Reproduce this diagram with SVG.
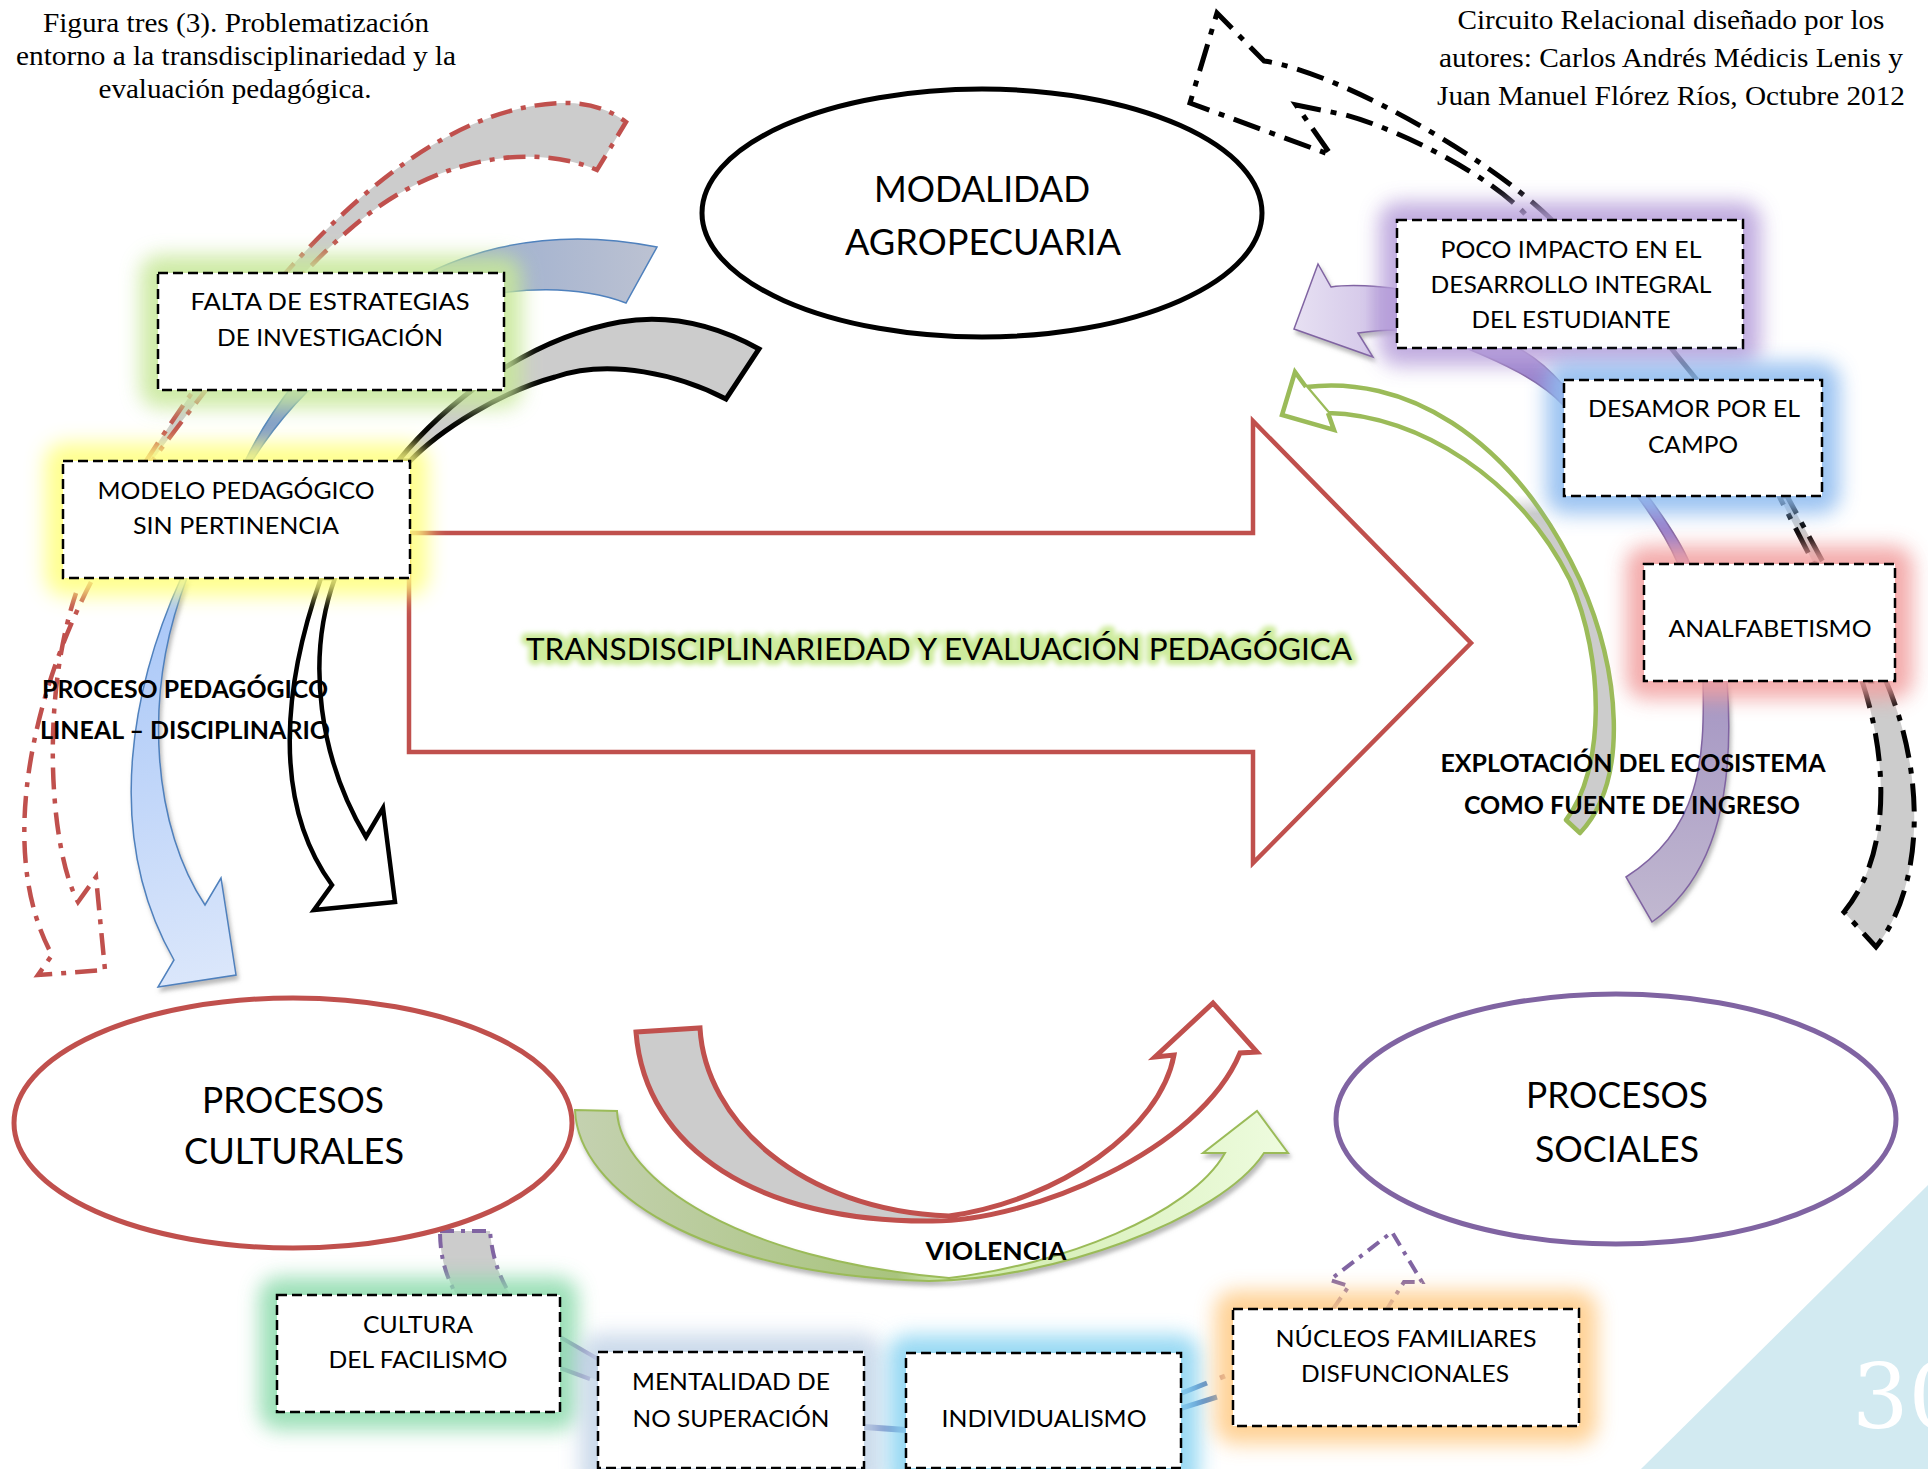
<svg xmlns="http://www.w3.org/2000/svg" width="1928" height="1469" viewBox="0 0 1928 1469">
<defs>
<style>
.box{fill:#fff;stroke:#000;stroke-width:2.5;stroke-dasharray:10 5}
.glow{filter:url(#blur);opacity:.88}
.bt{font-family:Lato,'Open Sans','DejaVu Sans',sans-serif;font-size:24px;text-anchor:middle;fill:#000}
.et{font-family:Lato,'Open Sans','DejaVu Sans',sans-serif;font-size:36px;text-anchor:middle;fill:#000}
.lbl{font-family:Lato,'Open Sans','DejaVu Sans',sans-serif;font-size:25px;font-weight:bold;fill:#000}
.ttl{font-family:'Liberation Serif','Times New Roman',serif;font-size:28px;text-anchor:middle;fill:#000}
.rdd{stroke:#C0504D;stroke-width:4.5;stroke-dasharray:22 9 5 9}
.kdd{stroke:#000;stroke-width:5;stroke-dasharray:28 10 6 10}
.pdd{stroke:#8064A2;stroke-width:4;stroke-dasharray:14 7 4 7}
</style>
<filter id="blur" x="-50%" y="-50%" width="200%" height="200%"><feGaussianBlur stdDeviation="10"/></filter>
<filter id="tblur" x="-10%" y="-50%" width="120%" height="200%"><feGaussianBlur stdDeviation="2.5"/></filter>
<filter id="shadow" x="-20%" y="-20%" width="140%" height="140%"><feDropShadow dx="2" dy="4" stdDeviation="2" flood-color="#808080" flood-opacity="0.55"/></filter>
<linearGradient id="blueBand" gradientUnits="userSpaceOnUse" x1="245" y1="0" x2="657" y2="0"><stop offset="0" stop-color="#7f9cc9"/><stop offset="0.6" stop-color="#a1b1cf"/><stop offset="1" stop-color="#bcc2d2"/></linearGradient>
<linearGradient id="blueDown" gradientUnits="userSpaceOnUse" x1="140" y1="580" x2="236" y2="990"><stop offset="0" stop-color="#a6c5f7"/><stop offset="1" stop-color="#dde8fb"/></linearGradient>
<linearGradient id="greenU" gradientUnits="userSpaceOnUse" x1="575" y1="0" x2="1290" y2="0"><stop offset="0" stop-color="#c4d1b0"/><stop offset="0.45" stop-color="#a9c47e"/><stop offset="0.52" stop-color="#cfeaab"/><stop offset="1" stop-color="#eefcdf"/></linearGradient>
<linearGradient id="purpleHead" gradientUnits="userSpaceOnUse" x1="1290" y1="0" x2="1397" y2="0"><stop offset="0" stop-color="#e8e2f3"/><stop offset="0.7" stop-color="#d6caea"/><stop offset="1" stop-color="#a98dd0"/></linearGradient>
<linearGradient id="purpleBand" gradientUnits="userSpaceOnUse" x1="0" y1="682" x2="0" y2="920"><stop offset="0" stop-color="#a596c3"/><stop offset="1" stop-color="#c1b8d0"/></linearGradient>
<linearGradient id="greenFill" gradientUnits="userSpaceOnUse" x1="0" y1="380" x2="0" y2="840"><stop offset="0" stop-color="#fff"/><stop offset="0.25" stop-color="#fff"/><stop offset="0.29" stop-color="#cccccc"/><stop offset="1" stop-color="#cccccc"/></linearGradient>
</defs>

<rect x="0" y="0" width="1928" height="1469" fill="#fff"/>

<g id="page-number">
<polygon points="1641,1469 1928,1185 1928,1469" fill="#d2eaf1"/>
<text x="1852" y="1428" font-family="'DejaVu Serif',serif" font-size="89" fill="#fff">30</text>
</g>

<g id="node-transdisciplinariedad">
<path d="M409,533 L1253,533 L1253,421 L1471,643 L1253,863 L1253,752 L409,752 Z" fill="#fff" stroke="#C0504D" stroke-width="4.5"/>
<text x="939" y="660" font-family="Lato,'Open Sans',sans-serif" font-size="30" text-anchor="middle" textLength="826" lengthAdjust="spacingAndGlyphs" fill="none" stroke="#cdeb9c" stroke-width="10" stroke-linejoin="round" filter="url(#tblur)">TRANSDISCIPLINARIEDAD Y EVALUACIÓN PEDAGÓGICA</text>
<text x="939" y="660" font-family="Lato,'Open Sans',sans-serif" font-size="30" text-anchor="middle" textLength="826" lengthAdjust="spacingAndGlyphs" fill="#000">TRANSDISCIPLINARIEDAD Y EVALUACIÓN PEDAGÓGICA</text>
</g>

<g id="connectors">
<!-- red dash-dot band to top -->
<path d="M146,461 C250,300 400,110 560,103 C590,102 610,110 626,122 L597,170 C540,145 440,150 349,230 C290,280 220,370 152,461 Z" fill="#cccccc" class="rdd"/>
<!-- red dash-dot arrow down-left -->
<path d="M91,582 C35,690 -5,850 52,955 L38,975 L105,970 L96,877 L78,902 C50,850 40,700 76,593" fill="none" class="rdd"/>
<!-- blue band to top -->
<path d="M245,461 C290,370 420,200 657,247 L626,303 C540,270 360,290 252,461 Z" fill="url(#blueBand)" stroke="#4F81BD" stroke-width="1.5"/>
<!-- black band to top -->
<path d="M398,461 C440,410 520,340 620,322 C680,312 730,333 759,349 L726,399 C680,375 610,358 555,377 C500,392 440,430 410,461 Z" fill="#cccccc" stroke="#000" stroke-width="5" stroke-linejoin="miter"/>
<!-- blue curved down arrow -->
<path d="M181,578 C135,680 100,830 174,960 L158,987 L236,975 L221,878 L205,905 C155,830 140,700 187,578 Z" fill="url(#blueDown)" stroke="#4F81BD" stroke-width="1.5" filter="url(#shadow)"/>
<!-- black curved down arrow -->
<path d="M321,578 C285,680 270,800 332,885 L314,910 L395,902 L383,808 L366,837 C320,760 305,660 335,578 Z" fill="#fff" stroke="#000" stroke-width="4.5"/>
<!-- black dash-dot arrow top right -->
<path d="M1552,220 C1480,150 1330,70 1264,61 L1217,13 L1190,103 L1331,155 L1296,105 L1346,115 C1400,130 1490,175 1527,216" fill="none" class="kdd"/>
<line x1="1671" y1="348" x2="1697" y2="380" stroke="#000" stroke-width="5"/>
<path d="M1779,496 L1787,496 L1824,564 L1814,564 Z" fill="#cccccc" class="kdd" stroke-width="3.5"/>
<path d="M1862,681 C1885,750 1895,850 1844,912 L1876,947 C1922,890 1928,780 1886,681 Z" fill="#cccccc" class="kdd" stroke-width="4.5"/>
<!-- purple curved arrow -->
<path d="M1397,289 C1380,286 1350,284 1331,287 L1318,264 L1294,329 L1373,357 L1358,333 C1372,331 1385,330 1397,330 Z" fill="url(#purpleHead)" stroke="#8064A2" stroke-width="1.5" filter="url(#shadow)"/>
<path d="M1466,348 C1500,362 1540,380 1563,405 L1563,385 C1550,370 1535,357 1518,348 Z" fill="#9a82cc" stroke="#8064A2" stroke-width="1.5"/>
<path d="M1637,496 C1655,520 1670,545 1678,564 L1690,564 C1680,540 1662,515 1648,496 Z" fill="#9a82cc" stroke="#8064A2" stroke-width="1.5"/>
<path d="M1703,681 C1705,760 1700,830 1626,877 L1652,922 C1712,880 1736,800 1727,681 Z" fill="url(#purpleBand)" stroke="#8064A2" stroke-width="1.5" filter="url(#shadow)"/>
<!-- green outlined curved arrow -->
<path d="M1306,387 C1400,375 1510,430 1580,580 C1620,670 1630,780 1580,833 L1566,820 C1605,770 1605,660 1570,580 C1520,480 1420,415 1328,413 Z" fill="url(#greenFill)" stroke="#9BBB59" stroke-width="4.5" stroke-linejoin="round"/>
<path d="M1306,387 L1295,372 L1282,415 L1334,430 L1328,413" fill="#fff" stroke="#9BBB59" stroke-width="4.5" stroke-linejoin="miter"/>
<!-- red U arrow -->
<path d="M636,1032 L700,1028 C705,1120 800,1210 949,1216 L930,1221 C760,1222 645,1150 636,1032 Z" fill="#cccccc"/>
<path d="M636,1032 L700,1028 C705,1120 800,1210 949,1216 C1060,1200 1160,1130 1174,1055 L1155,1057 L1213,1003 L1257,1052 L1240,1053 C1200,1150 1030,1222 930,1221 C760,1222 645,1150 636,1032 Z" fill="none" stroke="#C0504D" stroke-width="5" stroke-linejoin="miter"/>
<!-- green U arrow -->
<path d="M575,1110 L617,1111 C620,1180 740,1260 949,1278 C1060,1265 1190,1215 1225,1153 L1203,1153 L1257,1111 L1288,1153 L1264,1153 C1220,1220 1050,1280 929,1281 C700,1275 578,1190 575,1110 Z" fill="url(#greenU)" stroke="#9BBB59" stroke-width="2" filter="url(#shadow)"/>
<!-- bottom small connectors -->
<path d="M440,1231 L490,1231 C492,1255 498,1275 511,1296 L457,1296 C445,1275 440,1255 440,1231 Z" fill="#cccccc" class="pdd" stroke-width="3.5"/>
<path d="M560,1337 L598,1359 L598,1380 L560,1368 Z" fill="#9fb0d0" opacity="0.6"/>
<path d="M560,1337 L598,1359 M560,1368 L590,1379" stroke="#7a6ab0" stroke-width="4" fill="none"/>
<line x1="864" y1="1427" x2="906" y2="1430" stroke="#6a74b8" stroke-width="6"/>
<path d="M1182,1393 L1207,1383 M1182,1408 L1217,1397" stroke="#4a7cc0" stroke-width="5" fill="none"/>
<path d="M1220,1378 L1225,1376" stroke="#b07d8a" stroke-width="5" fill="none"/>
<path d="M1333,1309 L1349,1286 L1330,1280 L1392,1232 L1422,1282 L1404,1282 L1387,1309" fill="none" class="pdd"/>
</g>

<g id="node-falta">
<rect class="glow" x="140" y="255" width="382" height="153" rx="20" fill="#c8e89a"/>
<rect class="box" x="158" y="273" width="346" height="117"/>
<text class="bt" x="330" y="310" textLength="279" lengthAdjust="spacingAndGlyphs">FALTA DE ESTRATEGIAS</text>
<text class="bt" x="330" y="346" textLength="226" lengthAdjust="spacingAndGlyphs">DE INVESTIGACIÓN</text>
</g>
<g id="node-modelo">
<rect class="glow" x="45" y="443" width="383" height="153" rx="20" fill="#ffff80"/>
<rect class="box" x="63" y="461" width="347" height="117"/>
<text class="bt" x="236" y="499" textLength="277" lengthAdjust="spacingAndGlyphs">MODELO PEDAGÓGICO</text>
<text class="bt" x="236" y="534" textLength="206" lengthAdjust="spacingAndGlyphs">SIN PERTINENCIA</text>
</g>
<g id="node-poco-impacto">
<rect class="glow" x="1379" y="202" width="382" height="164" rx="20" fill="#b9a2dc"/>
<rect class="box" x="1397" y="220" width="346" height="128"/>
<text class="bt" x="1571" y="258" textLength="261" lengthAdjust="spacingAndGlyphs">POCO IMPACTO EN EL</text>
<text class="bt" x="1571" y="293" textLength="281" lengthAdjust="spacingAndGlyphs">DESARROLLO INTEGRAL</text>
<text class="bt" x="1571" y="328" textLength="199" lengthAdjust="spacingAndGlyphs">DEL ESTUDIANTE</text>
</g>
<g id="node-desamor">
<rect class="glow" x="1546" y="362" width="294" height="152" rx="20" fill="#8fbcf0"/>
<rect class="box" x="1564" y="380" width="258" height="116"/>
<text class="bt" x="1694" y="417" textLength="212" lengthAdjust="spacingAndGlyphs">DESAMOR POR EL</text>
<text class="bt" x="1693" y="453" textLength="90" lengthAdjust="spacingAndGlyphs">CAMPO</text>
</g>
<g id="node-analfabetismo">
<rect class="glow" x="1626" y="546" width="287" height="153" rx="20" fill="#f2a0a0"/>
<rect class="box" x="1644" y="564" width="251" height="117"/>
<text class="bt" x="1770" y="637" textLength="203" lengthAdjust="spacingAndGlyphs">ANALFABETISMO</text>
</g>
<g id="node-cultura">
<rect class="glow" x="259" y="1277" width="319" height="153" rx="20" fill="#8fdcae"/>
<rect class="box" x="277" y="1295" width="283" height="117"/>
<text class="bt" x="418" y="1333" textLength="110" lengthAdjust="spacingAndGlyphs">CULTURA</text>
<text class="bt" x="418" y="1368" textLength="179" lengthAdjust="spacingAndGlyphs">DEL FACILISMO</text>
</g>
<g id="node-mentalidad">
<rect class="glow" x="580" y="1334" width="302" height="160" rx="20" fill="#c5d5e8"/>
<rect class="box" x="598" y="1352" width="266" height="116"/>
<text class="bt" x="731" y="1390" textLength="198" lengthAdjust="spacingAndGlyphs">MENTALIDAD DE</text>
<text class="bt" x="731" y="1427" textLength="197" lengthAdjust="spacingAndGlyphs">NO SUPERACIÓN</text>
</g>
<g id="node-individualismo">
<rect class="glow" x="888" y="1335" width="311" height="160" rx="20" fill="#8ad4f2"/>
<rect class="box" x="906" y="1353" width="275" height="115"/>
<text class="bt" x="1044" y="1427" textLength="205" lengthAdjust="spacingAndGlyphs">INDIVIDUALISMO</text>
</g>
<g id="node-nucleos">
<rect class="glow" x="1215" y="1291" width="382" height="153" rx="20" fill="#ffcc88"/>
<rect class="box" x="1233" y="1309" width="346" height="117"/>
<text class="bt" x="1406" y="1347" textLength="261" lengthAdjust="spacingAndGlyphs">NÚCLEOS FAMILIARES</text>
<text class="bt" x="1405" y="1382" textLength="208" lengthAdjust="spacingAndGlyphs">DISFUNCIONALES</text>
</g>

<g id="node-modalidad">
<ellipse cx="982" cy="213" rx="280" ry="124" fill="#fff" stroke="#000" stroke-width="5"/>
<text class="et" x="982" y="202" textLength="216" lengthAdjust="spacingAndGlyphs">MODALIDAD</text>
<text class="et" x="983" y="255" textLength="276" lengthAdjust="spacingAndGlyphs">AGROPECUARIA</text>
</g>
<g id="node-procesos-culturales">
<ellipse cx="293" cy="1123" rx="279" ry="125" fill="#fff" stroke="#C0504D" stroke-width="5"/>
<text class="et" x="293" y="1113" textLength="182" lengthAdjust="spacingAndGlyphs">PROCESOS</text>
<text class="et" x="294" y="1164" textLength="220" lengthAdjust="spacingAndGlyphs">CULTURALES</text>
</g>
<g id="node-procesos-sociales">
<ellipse cx="1616" cy="1119" rx="280" ry="125" fill="#fff" stroke="#8064A2" stroke-width="5"/>
<text class="et" x="1617" y="1108" textLength="182" lengthAdjust="spacingAndGlyphs">PROCESOS</text>
<text class="et" x="1617" y="1162" textLength="164" lengthAdjust="spacingAndGlyphs">SOCIALES</text>
</g>

<g id="labels">
<text class="lbl" x="42" y="698" textLength="286" lengthAdjust="spacingAndGlyphs">PROCESO PEDAGÓGICO</text>
<text class="lbl" x="40" y="739" textLength="290" lengthAdjust="spacingAndGlyphs">LINEAL – DISCIPLINARIO</text>
<text class="lbl" x="1633" y="772" text-anchor="middle" textLength="385" lengthAdjust="spacingAndGlyphs">EXPLOTACIÓN DEL ECOSISTEMA</text>
<text class="lbl" x="1632" y="814" text-anchor="middle" textLength="336" lengthAdjust="spacingAndGlyphs">COMO FUENTE DE INGRESO</text>
<text class="lbl" x="996" y="1260" text-anchor="middle" textLength="141" lengthAdjust="spacingAndGlyphs">VIOLENCIA</text>
</g>

<g id="titles">
<text class="ttl" x="236" y="32" textLength="386" lengthAdjust="spacingAndGlyphs">Figura tres (3). Problematización</text>
<text class="ttl" x="236" y="65" textLength="440" lengthAdjust="spacingAndGlyphs">entorno a la transdisciplinariedad y la</text>
<text class="ttl" x="235" y="98" textLength="273" lengthAdjust="spacingAndGlyphs">evaluación pedagógica.</text>
<text class="ttl" x="1671" y="29" textLength="427" lengthAdjust="spacingAndGlyphs">Circuito Relacional diseñado por los</text>
<text class="ttl" x="1671" y="67" textLength="464" lengthAdjust="spacingAndGlyphs">autores: Carlos Andrés Médicis Lenis y</text>
<text class="ttl" x="1671" y="105" textLength="468" lengthAdjust="spacingAndGlyphs">Juan Manuel Flórez Ríos, Octubre 2012</text>
</g>
</svg>
